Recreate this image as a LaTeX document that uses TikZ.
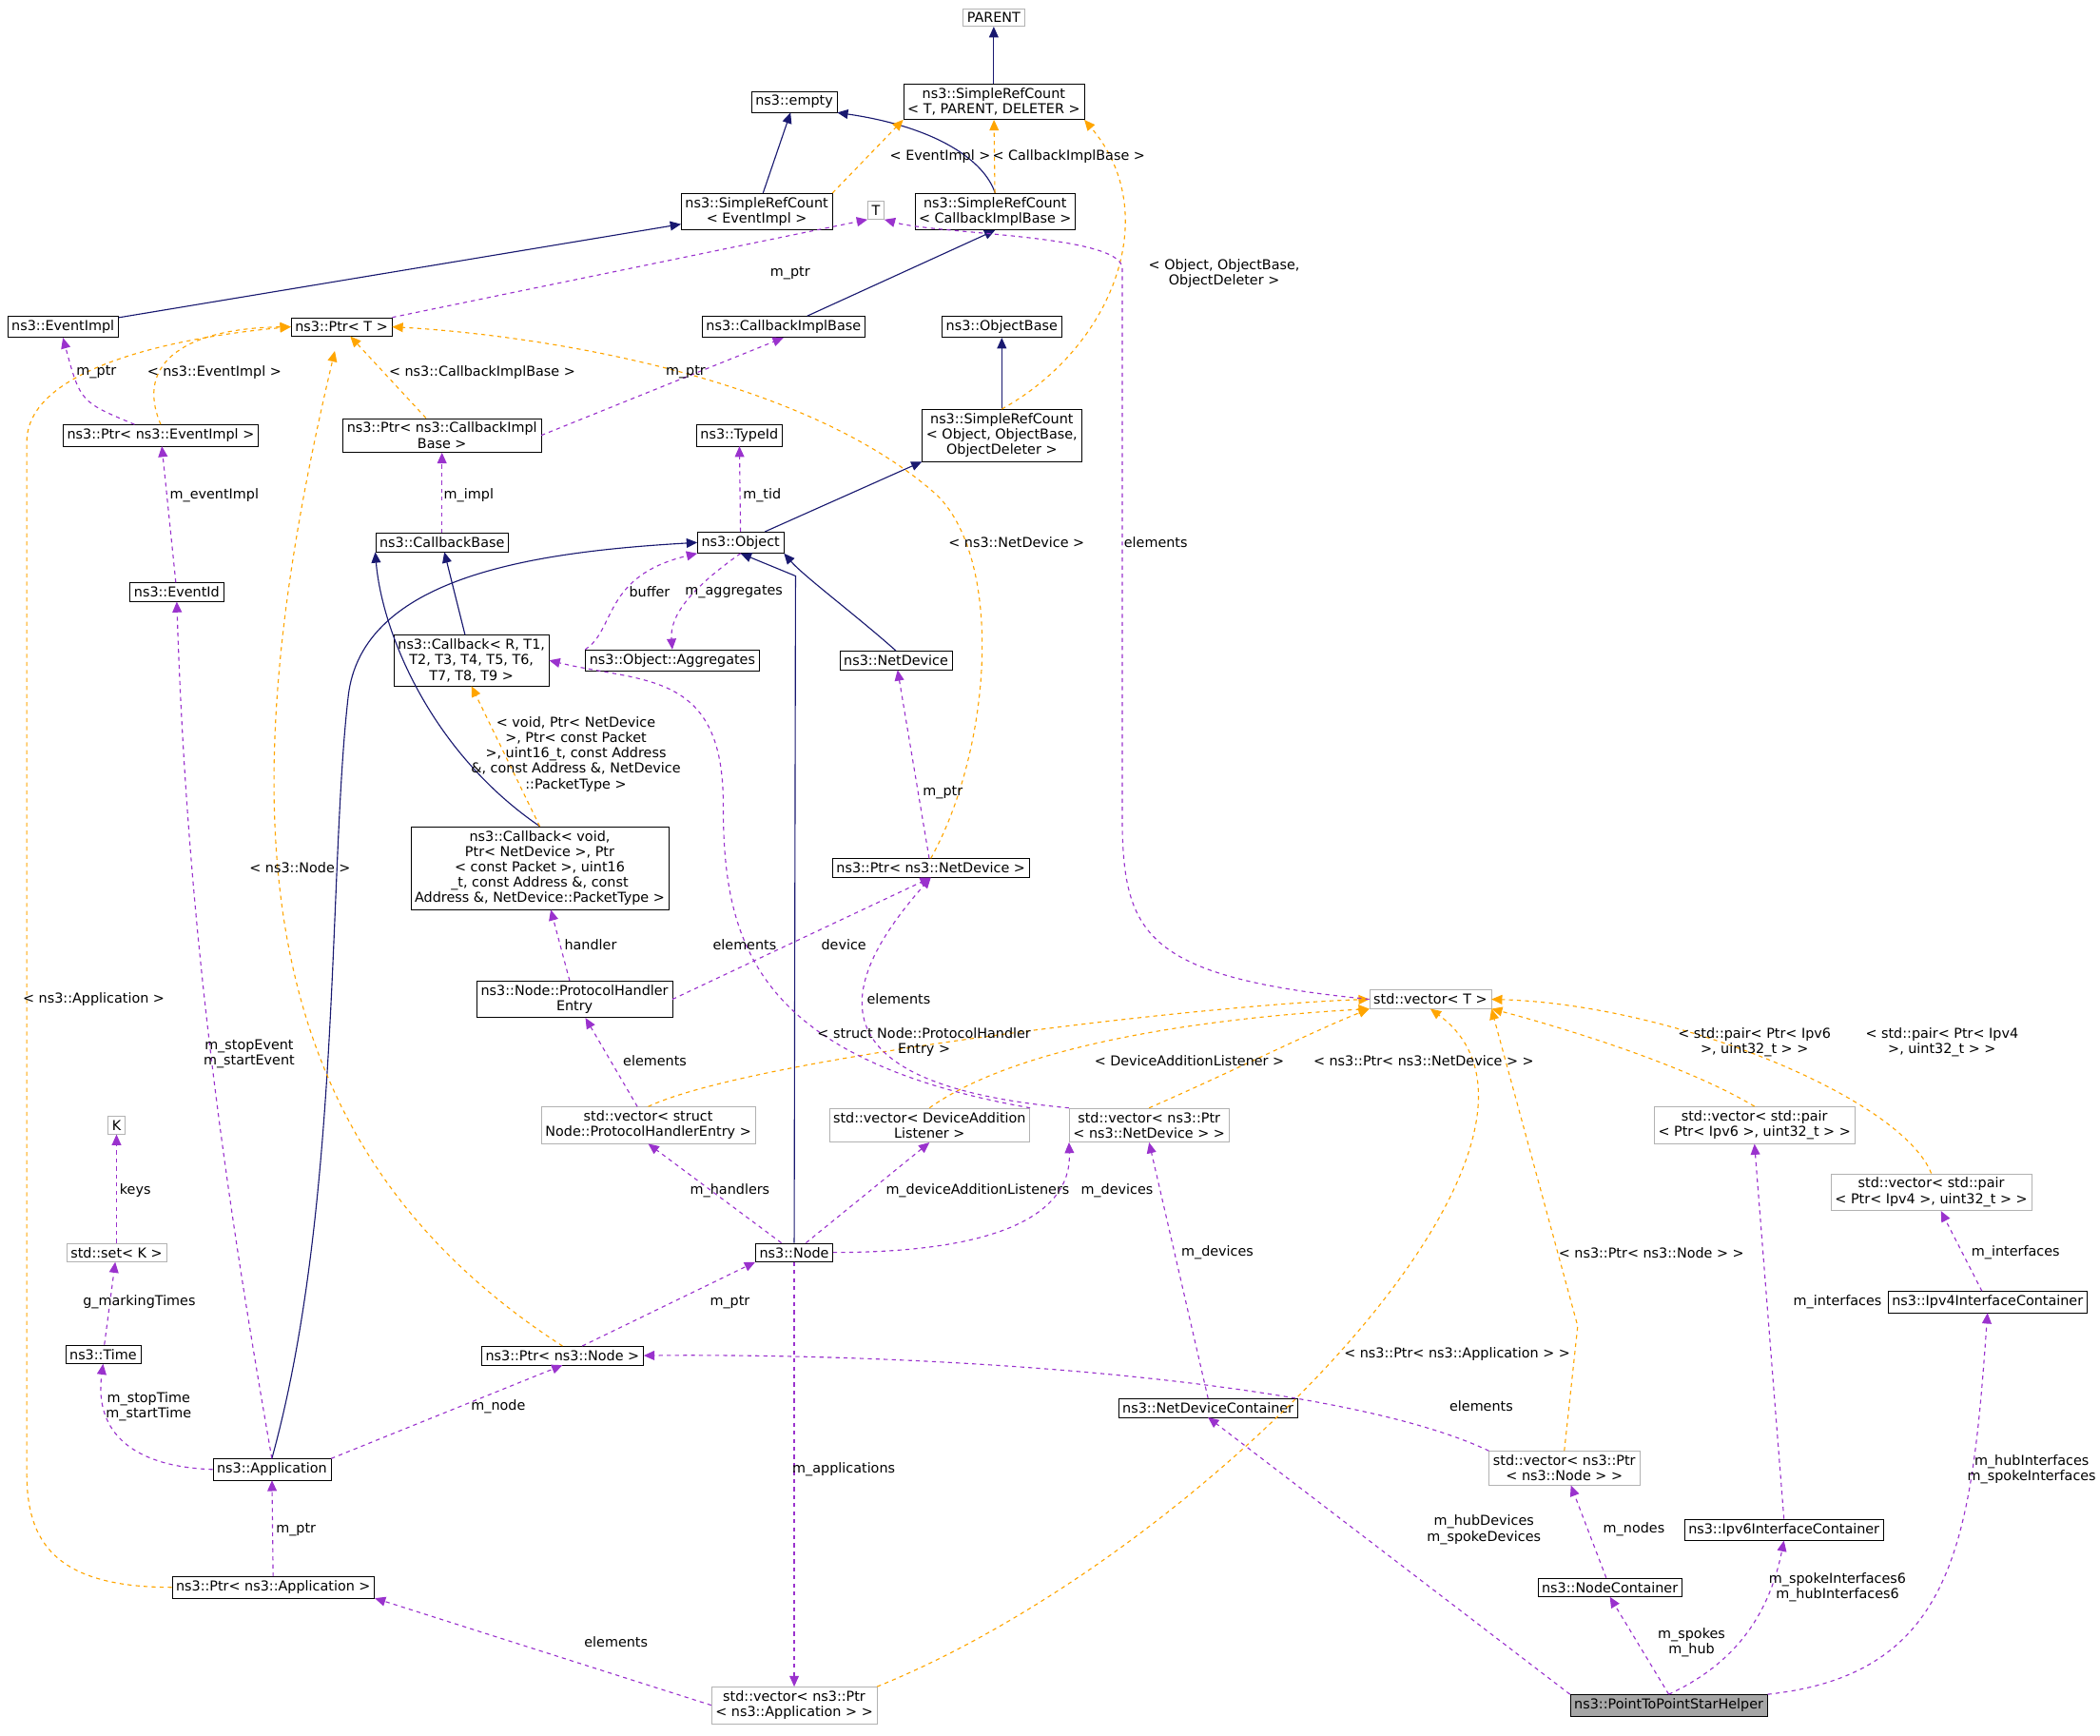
\documentclass[tikz,border=0pt]{standalone}
\usepackage{fontspec}
\setmainfont{DejaVu Sans}
\usetikzlibrary{arrows.meta}
\definecolor{inhc}{RGB}{25,25,112}
\definecolor{usec}{RGB}{154,50,205}
\definecolor{tplc}{RGB}{255,165,0}
\tikzset{
  box/.style={draw, fill=white, inner sep=3pt, align=center, font=\fontsize{10.2}{11.5}\selectfont},
  gbox/.style={box, draw=black!30},
  hbox/.style={box, fill=black!35},
  lbl/.style={align=center, font=\fontsize{10.2}{11.5}\selectfont, inner sep=1pt},
  inh/.style={draw=inhc, thick, -{Triangle[length=8pt,width=7pt,fill=inhc]}},
  tpl/.style={draw=tplc, dashed, thick, -{Triangle[length=8pt,width=7pt,fill=tplc]}},
  use/.style={draw=usec, dashed, thick, -{Triangle[length=8pt,width=7pt,fill=usec]}}
}
\begin{document}
\begin{tikzpicture}[x=1pt,y=1pt]
\useasboundingbox (0,0) rectangle (1568,-1296);

% ------------------------
% Nodes
% ------------------------
\node[gbox] (parent) at (742,-13) {PARENT};
\node[box] (srcTP) at (742,-76) {ns3::SimpleRefCount\\< T, PARENT, DELETER >};
\node[box] (empty) at (593,-76) {ns3::empty};
\node[box] (srcEI) at (565,-158) {ns3::SimpleRefCount\\< EventImpl >};
\node[box] (srcCIB) at (743,-158) {ns3::SimpleRefCount\\< CallbackImplBase >};
\node[gbox] (T) at (654,-157) {T};
\node[box] (eventImpl) at (47,-244) {ns3::EventImpl};
\node[box] (ptrT) at (255,-244) {ns3::Ptr< T >};
\node[box] (cib) at (585,-244) {ns3::CallbackImplBase};
\node[box] (objBase) at (748,-244) {ns3::ObjectBase};
\node[box] (ptrEI) at (120,-325) {ns3::Ptr< ns3::EventImpl >};
\node[box] (ptrCIB) at (330,-325) {ns3::Ptr< ns3::CallbackImpl\\Base >};
\node[box] (srcObj) at (748,-325) {ns3::SimpleRefCount\\< Object, ObjectBase,\\ObjectDeleter >};
\node[box] (typeId) at (552,-325) {ns3::TypeId};
\node[box] (cbBase) at (330,-405) {ns3::CallbackBase};
\node[box] (object) at (553,-405) {ns3::Object};
\node[box] (eventId) at (132,-442) {ns3::EventId};
\node[box] (cbR) at (352,-493) {ns3::Callback< R, T1,\\T2, T3, T4, T5, T6,\\T7, T8, T9 >};
\node[box] (aggr) at (502,-493) {ns3::Object::Aggregates};
\node[box] (netDev) at (669,-493) {ns3::NetDevice};
\node[box] (cbVoid) at (403,-648) {ns3::Callback< void,\\Ptr< NetDevice >, Ptr\\< const Packet >, uint16\\\_t, const Address \&, const\\Address \&, NetDevice::PacketType >};
\node[box] (ptrND) at (695,-648) {ns3::Ptr< ns3::NetDevice >};
\node[box] (phe) at (429,-746) {ns3::Node::ProtocolHandler\\Entry};
\node[gbox] (vecT) at (1068,-746) {std::vector< T >};
\node[gbox] (K) at (87,-840) {K};
\node[gbox] (vecPHE) at (484,-840) {std::vector< struct\\Node::ProtocolHandlerEntry >};
\node[gbox] (vecDAL) at (694,-840) {std::vector< DeviceAddition\\Listener >};
\node[gbox] (vecPND) at (858,-840) {std::vector< ns3::Ptr\\< ns3::NetDevice > >};
\node[gbox] (vecP6) at (1310,-840) {std::vector< std::pair\\< Ptr< Ipv6 >, uint32\_t > >};
\node[gbox] (vecP4) at (1442,-890) {std::vector< std::pair\\< Ptr< Ipv4 >, uint32\_t > >};
\node[gbox] (setK) at (87,-935) {std::set< K >};
\node[box] (node) at (593,-935) {ns3::Node};
\node[box] (ipv4IC) at (1484,-972) {ns3::Ipv4InterfaceContainer};
\node[box] (time) at (77,-1011) {ns3::Time};
\node[box] (ptrNode) at (420,-1012) {ns3::Ptr< ns3::Node >};
\node[box] (ndc) at (902,-1051) {ns3::NetDeviceContainer};
\node[box] (app) at (203,-1097) {ns3::Application};
\node[gbox] (vecPN) at (1168,-1096) {std::vector< ns3::Ptr\\< ns3::Node > >};
\node[box] (ipv6IC) at (1332,-1142) {ns3::Ipv6InterfaceContainer};
\node[box] (nc) at (1202,-1185) {ns3::NodeContainer};
\node[box] (ptrApp) at (204,-1185) {ns3::Ptr< ns3::Application >};
\node[gbox] (vecPA) at (593,-1273) {std::vector< ns3::Ptr\\< ns3::Application > >};
\node[hbox] (helper) at (1246,-1273) {ns3::PointToPointStarHelper};

% ------------------------
% Inheritance
% ------------------------
\draw[inh] (srcTP) -- (parent);
\draw[inh] (srcEI) -- (empty);
\draw[inh] (srcCIB.north) .. controls (735,-120) and (700,-95) .. (empty.south east);
\draw[inh] (eventImpl) -- (srcEI);
\draw[inh] (cib) -- (srcCIB.south);
\draw[inh] (srcObj) -- (objBase);
\draw[inh] (object) -- (srcObj.south west);
\draw[inh] (cbR) -- (cbBase);
\draw[inh] (cbVoid.north) .. controls (320,-560) and (285,-470) .. (cbBase.south west);
\draw[inh] (app.north) .. controls (255,-900) and (245,-650) .. (260,-520) .. controls (270,-430) and (400,-412) .. (object.west);
\draw[inh] (node.north) -- (594,-430) -- (object.south);
\draw[inh] (netDev.north) .. controls (640,-460) and (600,-430) .. (object.south east);

% ------------------------
% Templates
% ------------------------
\draw[tpl] (srcEI.north east) -- (srcTP.south west);
\draw[tpl] (srcCIB) -- (srcTP);
\draw[tpl] (srcObj.north) .. controls (830,-260) and (870,-160) .. (srcTP.south east);
\draw[tpl] (ptrEI.north) .. controls (100,-270) and (140,-245) .. (ptrT.west);
\draw[tpl] (ptrCIB) -- (ptrT);
\draw[tpl] (ptrND.north) .. controls (740,-560) and (750,-420) .. (700,-370) .. controls (600,-280) and (400,-250) .. (ptrT.east);
\draw[tpl] (ptrNode.north) .. controls (180,-850) and (170,-600) .. (250,-262);
\draw[tpl] (ptrApp.west) .. controls (40,-1185) and (20,-1150) .. (20,-1100) -- (20,-330) .. controls (20,-270) and (150,-250) .. (ptrT.west);
\draw[tpl] (cbVoid.north) -- (cbR.south);
\draw[tpl] (vecPHE.north) .. controls (560,-790) and (900,-750) .. (vecT.west);
\draw[tpl] (vecDAL.north) .. controls (760,-780) and (900,-760) .. (vecT.south west);
\draw[tpl] (vecPND.north) .. controls (920,-800) and (980,-770) .. (vecT.south west);
\draw[tpl] (vecP6.north) .. controls (1250,-790) and (1140,-760) .. (vecT.south east);
\draw[tpl] (vecP4.north) .. controls (1420,-820) and (1250,-750) .. (vecT.east);
\draw[tpl] (vecPN.north) -- (1178,-990) -- (vecT.south east);
\draw[tpl] (vecPA.north east) .. controls (900,-1160) and (1200,-850) .. (vecT.south);

% ------------------------
% Usage
% ------------------------
\draw[use] (ptrT.north east) -- (T.south west);
\draw[use] (ptrEI) .. controls (60,-300) .. (eventImpl.south);
\draw[use] (ptrCIB.east) -- (cib.south);
\draw[use] (eventId) -- (ptrEI);
\draw[use] (cbBase) -- (ptrCIB);
\draw[use] (object) -- (typeId);
\draw[use] (aggr.north west) .. controls (460,-470) and (450,-430) .. (object.south west);
\draw[use] (object.south) .. controls (515,-440) and (500,-460) .. (aggr.north);
\draw[use] (ptrND) -- (netDev);
\draw[use] (vecT.west) .. controls (860,-730) and (840,-700) .. (838,-620) -- (838,-200) .. controls (836,-175) and (700,-175) .. (T.south east);
\draw[use] (phe) -- (cbVoid);
\draw[use] (phe.east) -- (ptrND.south);
\draw[use] (vecDAL.north east) .. controls (560,-790) and (540,-700) .. (540,-600) .. controls (540,-500) and (480,-510) .. (cbR.east);
\draw[use] (vecPND.north west) .. controls (610,-810) and (620,-740) .. (ptrND.south);
\draw[use] (vecPHE) -- (phe);
\draw[use] (node) -- (vecPHE.south);
\draw[use] (node) -- (vecDAL.south);
\draw[use] (node.east) .. controls (760,-935) and (800,-900) .. (vecPND.south west);
\draw[use] (setK) -- (K);
\draw[use] (time) -- (setK);
\draw[use] (app.west) .. controls (100,-1095) and (70,-1070) .. (time.south);
\draw[use] (app.north east) -- (ptrNode.south);
\draw[use] (ptrNode) -- (node.south west);
\draw[use] (app.north) .. controls (170,-900) and (140,-700) .. (eventId.south);
\draw[use] (ptrApp) -- (app);
\draw[use] (vecPA.west) -- (ptrApp.south east);
\draw[use] (node.south) -- (vecPA.north);
\draw[use] (vecPN.north west) .. controls (1000,-1030) and (700,-1010) .. (ptrNode.east);
\draw[use] (ndc.north) -- (vecPND.south);
\draw[use] (nc) -- (vecPN);
\draw[use] (ipv6IC.north) -- (vecP6.south);
\draw[use] (ipv4IC) -- (vecP4);
\draw[use] (helper.north west) -- (ndc.south);
\draw[use] (helper.north) -- (nc.south);
\draw[use] (helper.north) .. controls (1300,-1240) and (1322,-1200) .. (ipv6IC.south);
\draw[use] (helper.north east) .. controls (1460,-1250) and (1472,-1150) .. (ipv4IC.south);

% ------------------------
% Edge labels
% ------------------------
\node[lbl] (lEI) at (702,-117) {< EventImpl >};
\node[lbl] (lCIB) at (798,-117) {< CallbackImplBase >};
\node[lbl] (lObj) at (914,-204) {< Object, ObjectBase,\\ObjectDeleter >};
\node[lbl] (lptrT) at (590,-204) {m\_ptr};
\node[lbl] (lptrEI) at (72,-278) {m\_ptr};
\node[lbl] (lPEI) at (160,-278) {< ns3::EventImpl >};
\node[lbl] (lPCIB) at (360,-278) {< ns3::CallbackImplBase >};
\node[lbl] (lptrCIB) at (512,-278) {m\_ptr};
\node[lbl] (lEvImpl) at (160,-370) {m\_eventImpl};
\node[lbl] (lImpl) at (350,-370) {m\_impl};
\node[lbl] (lTid) at (569,-370) {m\_tid};
\node[lbl] (lPND) at (759,-405) {< ns3::NetDevice >};
\node[lbl] (lElT) at (863,-405) {elements};
\node[lbl] (lBuf) at (485,-442) {buffer};
\node[lbl] (lAggr) at (548,-442) {m\_aggregates};
\node[lbl] (lCb) at (430,-563) {< void, Ptr< NetDevice\\>, Ptr< const Packet\\>, uint16\_t, const Address\\\&, const Address \&, NetDevice\\::PacketType >};
\node[lbl] (lptrND) at (704,-592) {m\_ptr};
\node[lbl] (lNode) at (224,-648) {< ns3::Node >};
\node[lbl] (lHandler) at (441,-705) {handler};
\node[lbl] (lDevice) at (630,-705) {device};
\node[lbl] (lElDAL) at (556,-705) {elements};
\node[lbl] (lElPND) at (671,-746) {elements};
\node[lbl] (lApp) at (70,-746) {< ns3::Application >};
\node[lbl] (lSE) at (186,-787) {m\_stopEvent\\m\_startEvent};
\node[lbl] (lElPHE) at (489,-792) {elements};
\node[lbl] (lSPHE) at (690,-778) {< struct Node::ProtocolHandler\\Entry >};
\node[lbl] (lSDAL) at (888,-792) {< DeviceAdditionListener >};
\node[lbl] (lSPND) at (1063,-792) {< ns3::Ptr< ns3::NetDevice > >};
\node[lbl] (lS6) at (1310,-778) {< std::pair< Ptr< Ipv6\\>, uint32\_t > >};
\node[lbl] (lS4) at (1450,-778) {< std::pair< Ptr< Ipv4\\>, uint32\_t > >};
\node[lbl] (lKeys) at (101,-889) {keys};
\node[lbl] (lHandlers) at (545,-889) {m\_handlers};
\node[lbl] (lDAL) at (730,-889) {m\_deviceAdditionListeners};
\node[lbl] (lDevs) at (834,-889) {m\_devices};
\node[lbl] (lGmt) at (104,-972) {g\_markingTimes};
\node[lbl] (lDevs2) at (909,-935) {m\_devices};
\node[lbl] (lSPN) at (1233,-935) {< ns3::Ptr< ns3::Node > >};
\node[lbl] (lIf6) at (1372,-972) {m\_interfaces};
\node[lbl] (lIf4) at (1505,-935) {m\_interfaces};
\node[lbl] (lptrNode) at (545,-972) {m\_ptr};
\node[lbl] (lSPA) at (1088,-1011) {< ns3::Ptr< ns3::Application > >};
\node[lbl] (lTimes) at (111,-1050) {m\_stopTime\\m\_startTime};
\node[lbl] (lNodeM) at (372,-1050) {m\_node};
\node[lbl] (lElPN) at (1106,-1050) {elements};
\node[lbl] (lApps) at (630,-1097) {m\_applications};
\node[lbl] (lHubIf) at (1517,-1097) {m\_hubInterfaces\\m\_spokeInterfaces};
\node[lbl] (lptrApp) at (221,-1142) {m\_ptr};
\node[lbl] (lHubDev) at (1108,-1142) {m\_hubDevices\\m\_spokeDevices};
\node[lbl] (lNodes) at (1220,-1142) {m\_nodes};
\node[lbl] (lIf6h) at (1372,-1185) {m\_spokeInterfaces6\\m\_hubInterfaces6};
\node[lbl] (lSpokes) at (1263,-1226) {m\_spokes\\m\_hub};
\node[lbl] (lElPA) at (460,-1226) {elements};
\end{tikzpicture}
\end{document}
